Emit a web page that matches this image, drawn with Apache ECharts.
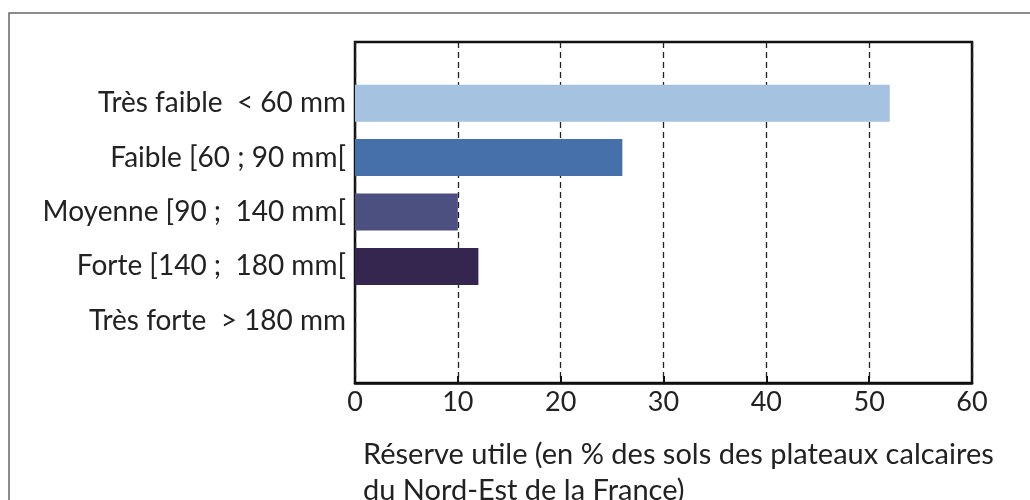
<!DOCTYPE html>
<html><head><meta charset="utf-8">
<script src="https://cdn.jsdelivr.net/npm/echarts@6/dist/echarts.min.js"></script>
<style>html,body{margin:0;padding:0;background:#fff}#c{width:1030px;height:500px}</style>
</head><body><div id="c"></div>
<script>
const categories = ['Très faible  < 60 mm', 'Faible [60 ; 90 mm[', 'Moyenne [90 ;  140 mm[', 'Forte [140 ;  180 mm[', 'Très forte  > 180 mm'];
const values = [52, 26, 10, 12, 0];
const barColors = ['#a5c2e1', '#4570a9', '#4b5081', '#34264f', '#222222'];
const xTicks = [0, 10, 20, 30, 40, 50, 60];
const axisTitle = 'Réserve utile (en % des sols des plateaux calcaires\ndu Nord-Est de la France)';
const FONT = 'Lato';

const chart = echarts.init(document.getElementById('c'), null, {renderer: 'canvas'});
chart.setOption({
  backgroundColor: '#fff',
  animation: false,
  textStyle: {fontFamily: FONT},
  grid: [
    {left: 355, right: 58, top: 76, bottom: 152},
    {left: 355, right: 58, top: 42, bottom: 117, show: true, borderColor: '#111', borderWidth: 2.5, backgroundColor: 'transparent'}
  ],
  xAxis: [
    {gridIndex: 0, type: 'value', min: 0, max: 60, show: false},
    {gridIndex: 1, type: 'value', min: 0, max: 60, interval: 10,
     axisLine: {show: true, lineStyle: {color: '#111', width: 2.5}},
     axisTick: {show: true, inside: true, length: 7, lineStyle: {color: '#111', width: 2}},
     splitLine: {show: true, lineStyle: {color: '#222', width: 1.3, type: [6, 4]}},
     axisLabel: {fontSize: 27, color: '#222', margin: 6, fontFamily: FONT,
       formatter: v => xTicks.includes(v) ? String(v) : ''}}
  ],
  yAxis: [
    {gridIndex: 0, type: 'category', data: categories, inverse: true,
     axisLine: {show: false}, axisTick: {show: false}, splitLine: {show: false},
     axisLabel: {fontSize: 28, color: '#222', margin: 9, fontFamily: FONT}},
    {gridIndex: 1, type: 'value', show: false, splitLine: {show: false}}
  ],
  series: [{
    type: 'bar', xAxisIndex: 0, yAxisIndex: 0, barWidth: 37,
    data: values.map((v, i) => ({value: v, itemStyle: {color: barColors[i]}}))
  }],
  graphic: [
    {type: 'rect', shape: {x: 9, y: 13, width: 1100, height: 600}, style: {fill: 'none', stroke: '#666', lineWidth: 1.5}, z: -1},
    {type: 'text', left: 363, top: 437, style: {text: axisTitle, font: '29px ' + FONT, fill: '#222', lineHeight: 36}}
  ]
});
</script></body></html>
